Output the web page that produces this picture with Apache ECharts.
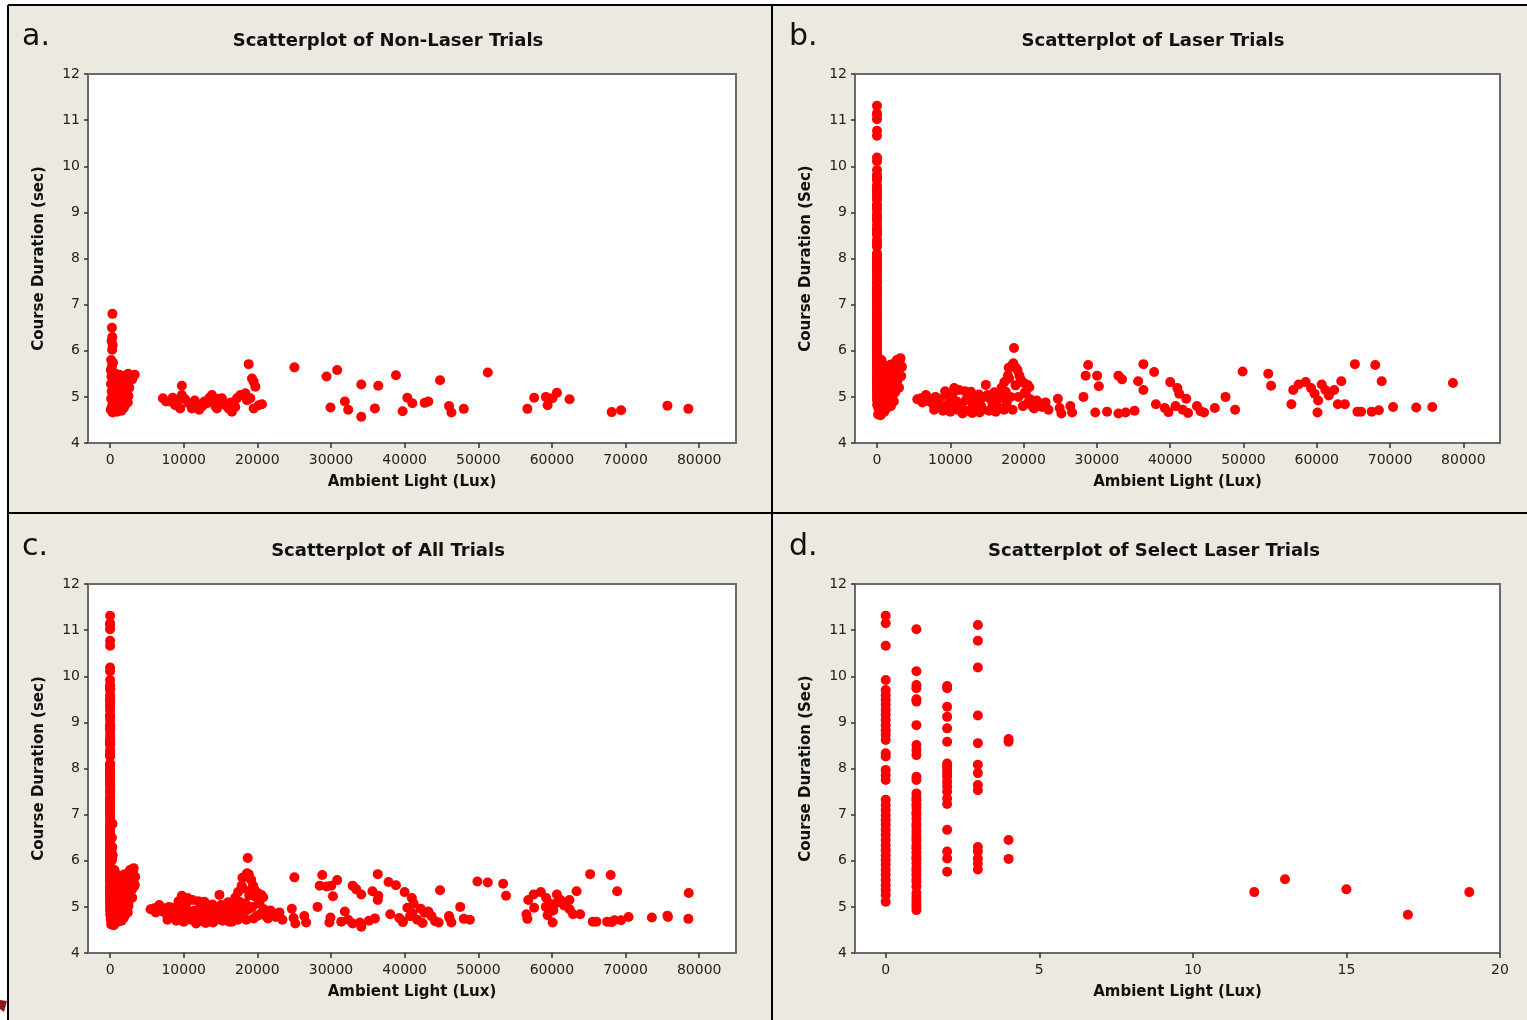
<!DOCTYPE html>
<html>
<head>
<meta charset="utf-8">
<title>Course duration vs ambient light</title>
<script src="https://cdn.jsdelivr.net/npm/echarts@6.0.0/dist/echarts.min.js"></script>
<style>
  html, body { margin: 0; padding: 0; background: #fff; }
  #sheet { position: absolute; left: 8px; top: 5px; right: 0; bottom: 0; background: #ece9e0; }
  #chart { position: absolute; left: 0; top: 0; width: 1527px; height: 1020px; }
</style>
</head>
<body>
<div id="sheet"></div>
<div id="chart"></div>
<script>
// [ambient light (lux), course duration (sec)]
const nonLaserTrials = [
  [320, 6.80], [250, 6.50], [300, 6.30], [200, 6.21], [350, 6.12], [280, 6.02], [150, 5.80], [400, 5.74], [250, 5.66],
  [100, 5.58], [450, 5.52], [180, 5.44], [380, 5.36], [120, 5.28], [420, 5.20], [220, 5.12], [360, 5.04], [140, 4.96],
  [460, 4.88], [260, 4.80], [90, 4.72], [340, 4.66],
  [700, 5.50], [950, 5.42], [1250, 5.48], [1500, 5.38], [1800, 5.45], [2100, 5.40], [2450, 5.50], [2750, 5.46], [3350, 5.48], [3000, 5.38],
  [650, 5.30], [900, 5.22], [1150, 5.32], [1400, 5.18], [1700, 5.26], [2000, 5.15], [2300, 5.28], [2600, 5.20],
  [700, 5.08], [1000, 5.02], [1300, 5.10], [1600, 4.98], [1900, 5.06], [2200, 4.96], [2500, 5.02],
  [600, 4.90], [850, 4.84], [1150, 4.92], [1450, 4.80], [1750, 4.88], [2050, 4.82], [2400, 4.88],
  [650, 4.72], [950, 4.68], [1250, 4.74], [1550, 4.70], [1850, 4.76],
  [7170, 4.97], [7600, 4.90], [8160, 4.90], [8500, 4.98], [8840, 4.82], [9200, 4.92], [9520, 4.75], [9750, 5.04], [9750, 5.24],
  [10200, 4.95], [10650, 4.86], [11110, 4.75], [11500, 4.92], [11790, 4.82], [12100, 4.72], [12470, 4.79], [12800, 4.90],
  [13150, 4.86], [13500, 4.98], [13830, 5.04], [14060, 4.93], [14300, 4.80], [14510, 4.75], [14800, 4.96], [15190, 4.97],
  [15400, 4.86], [15650, 4.82], [16100, 4.75], [16400, 4.88], [16550, 4.68], [16780, 4.86], [17000, 4.78], [17230, 4.97],
  [17690, 5.04], [18370, 5.08], [18590, 4.93], [18820, 5.71], [19050, 4.97], [19270, 5.40], [19500, 5.33], [19730, 5.22],
  [19500, 4.75], [20180, 4.82], [20630, 4.84],
  [25030, 5.64], [29390, 5.44], [30840, 5.58], [34110, 5.27], [36420, 5.24], [38820, 5.47], [44810, 5.36], [51290, 5.53],
  [29930, 4.77], [31880, 4.90], [32340, 4.72], [34110, 4.57], [35960, 4.75], [39730, 4.69], [40370, 4.98], [41050, 4.86],
  [42720, 4.87], [43220, 4.90], [46030, 4.80], [46350, 4.66], [48030, 4.74],
  [56670, 4.74], [57590, 4.98], [59180, 5.00], [59410, 4.82], [60090, 4.97], [60680, 5.09], [62400, 4.95],
  [68120, 4.67], [69390, 4.71], [75690, 4.81], [78530, 4.74]
];

// laser trials with ambient light below 20 lux (panel d)
const laserSelectTrials = [
  [0, 11.31], [0, 11.15], [0, 10.66], [0, 9.92], [0, 9.70], [0, 9.59], [0, 9.49], [0, 9.38], [0, 9.27], [0, 9.16],
  [0, 9.05], [0, 8.94], [0, 8.83], [0, 8.73], [0, 8.62], [0, 8.33], [0, 8.26], [0, 7.97], [0, 7.86], [0, 7.75],
  [0, 7.32], [0, 7.21], [0, 7.10], [0, 6.99], [0, 6.88], [0, 6.78], [0, 6.67], [0, 6.56], [0, 6.45], [0, 6.34],
  [0, 6.23], [0, 6.12], [0, 6.02], [0, 5.91], [0, 5.80], [0, 5.69], [0, 5.58], [0, 5.47], [0, 5.37], [0, 5.26], [0, 5.11],
  [1, 11.02], [1, 10.11], [1, 9.81], [1, 9.74], [1, 9.50], [1, 9.45], [1, 8.94], [1, 8.51], [1, 8.40], [1, 8.29],
  [1, 7.82], [1, 7.75], [1, 7.46], [1, 7.37], [1, 7.31], [1, 7.22], [1, 7.15], [1, 7.05], [1, 6.99], [1, 6.91],
  [1, 6.80], [1, 6.74], [1, 6.65], [1, 6.57], [1, 6.49], [1, 6.43], [1, 6.33], [1, 6.27], [1, 6.18], [1, 6.09],
  [1, 6.03], [1, 5.94], [1, 5.85], [1, 5.79], [1, 5.70], [1, 5.61], [1, 5.55], [1, 5.44], [1, 5.30], [1, 5.22],
  [1, 5.15], [1, 5.07], [1, 5.00], [1, 4.93],
  [2, 9.79], [2, 9.74], [2, 9.34], [2, 9.12], [2, 8.87], [2, 8.58], [2, 8.11], [2, 8.04], [2, 7.97], [2, 7.90],
  [2, 7.82], [2, 7.71], [2, 7.61], [2, 7.50], [2, 7.35], [2, 7.23], [2, 6.67], [2, 6.20], [2, 6.05], [2, 5.76],
  [3, 11.11], [3, 10.77], [3, 10.19], [3, 9.15], [3, 8.55], [3, 8.08], [3, 7.90], [3, 7.64], [3, 7.53],
  [3, 6.30], [3, 6.20], [3, 6.05], [3, 5.94], [3, 5.81],
  [4, 8.64], [4, 8.58], [4, 6.45], [4, 6.04],
  [12, 5.32], [13, 5.60], [15, 5.38], [17, 4.83], [19, 5.32]
];

// remaining laser trials (20 lux and above)
const laserOtherTrials = [
  [150, 4.62], [300, 4.70], [250, 4.80], [400, 4.66], [200, 4.75], [350, 4.85], [500, 4.60], [600, 4.72],
  [700, 4.65], [800, 4.78], [900, 4.90], [1000, 4.68], [1100, 4.82], [1200, 5.00], [1300, 4.75], [1400, 4.95],
  [1500, 5.10], [1600, 4.85], [1700, 5.05], [1800, 5.20], [1900, 4.80], [2000, 5.30], [2100, 5.00], [2200, 5.15],
  [2300, 4.90], [2400, 5.40], [2500, 5.10], [600, 5.00], [800, 5.20], [1000, 5.40], [1200, 5.60], [700, 5.55],
  [900, 5.70], [1100, 5.25], [1300, 5.45], [1500, 5.65], [1700, 5.50], [1900, 5.70], [2100, 5.60], [2300, 5.72],
  [500, 5.30], [400, 5.50], [2600, 5.55], [2800, 5.35], [3000, 5.20], [3200, 5.84], [3400, 5.65], [3300, 5.45],
  [3100, 5.75], [2700, 5.80], [1400, 5.35], [1600, 5.30], [1800, 5.45], [2000, 5.55], [600, 5.80], [300, 5.15], [350, 5.40],
  [5990, 4.97], [6680, 5.04], [7130, 4.90], [8270, 4.93], [8720, 4.79], [9400, 5.04], [10080, 4.93], [10530, 5.19],
  [10760, 4.75], [11680, 4.64], [12130, 4.93], [12810, 5.11], [13040, 4.79], [13720, 4.93], [14400, 4.72], [14850, 5.26],
  [15080, 5.04], [15760, 4.82], [16440, 4.93], [17350, 4.72], [17570, 5.11], [18030, 5.40], [18480, 5.69], [18690, 6.06],
  [19170, 5.58], [19620, 5.37], [20530, 5.26], [20530, 4.86], [21430, 4.75], [22110, 4.86],
  [5500, 4.95], [6200, 4.88], [6900, 4.98], [7600, 4.85], [8000, 5.00], [8500, 4.95], [9000, 4.70], [9700, 4.85],
  [10300, 5.05], [10900, 4.90], [11200, 5.15], [11500, 4.80], [12400, 4.70], [12600, 5.00], [13300, 4.85], [13900, 5.05],
  [14200, 4.80], [14600, 5.00], [15300, 4.70], [15500, 4.95], [16000, 5.10], [16700, 4.75], [16900, 5.00], [17700, 4.88],
  [18200, 5.00], [18900, 5.25], [19300, 5.00], [19900, 4.80], [20200, 5.10], [20900, 4.95], [21200, 4.80], [21800, 4.92],
  [22500, 4.78], [23000, 4.88], [23400, 4.72], [7800, 4.72], [10000, 4.68], [11000, 4.72], [13000, 4.65], [14000, 4.66],
  [16200, 4.68], [18500, 4.72], [9300, 5.12], [12000, 5.12], [17000, 5.20],
  [18600, 5.73], [18940, 5.63], [17970, 5.63], [17860, 5.46], [17380, 5.32], [19430, 5.46], [20050, 5.30], [20790, 5.21],
  [20300, 5.07], [24680, 4.96], [24920, 4.76], [25160, 4.64], [26380, 4.80], [26620, 4.66],
  [28810, 5.69], [28470, 5.46], [30030, 5.46], [30270, 5.23], [28170, 5.00], [29780, 4.66], [31390, 4.68],
  [32940, 5.46], [33430, 5.38], [32940, 4.64], [33920, 4.66], [35140, 4.70], [35630, 5.34], [36350, 5.15],
  [36350, 5.71], [37810, 5.54], [38050, 4.84], [39270, 4.76], [39760, 4.67], [40740, 4.80], [41710, 4.72], [42190, 4.96],
  [42440, 4.65], [43650, 4.80], [44140, 4.69], [44630, 4.66], [46090, 4.76], [40000, 5.32], [40980, 5.19], [41230, 5.07],
  [47550, 5.00], [48860, 4.72], [49880, 5.55], [53380, 5.50], [53770, 5.24],
  [56540, 4.84], [56790, 5.15], [57520, 5.27], [58490, 5.32], [59220, 5.19], [59710, 5.07], [60190, 4.92], [60680, 5.27],
  [61170, 5.15], [61650, 5.03], [62380, 5.15], [60100, 4.66], [62870, 4.84], [63840, 4.84], [63350, 5.34],
  [65200, 5.71], [67980, 5.69], [68860, 5.34], [65550, 4.68], [66040, 4.68], [67490, 4.68], [68470, 4.71],
  [70410, 4.78], [73570, 4.77], [75760, 4.78], [78580, 5.30]
];

const luxTicks = [0, 10000, 20000, 30000, 40000, 50000, 60000, 70000, 80000];
const selectLuxTicks = [0, 5, 10, 15, 20];

const allTrials = nonLaserTrials.concat(laserSelectTrials, laserOtherTrials);
const laserTrials = laserSelectTrials.concat(laserOtherTrials);

const panels = [
  { letter: 'a.', title: 'Scatterplot of Non-Laser Trials', yName: 'Course Duration (sec)', data: nonLaserTrials,
    left: 88, top: 74, width: 648, cx: 388, xMin: -3000, xMax: 85000, ticks: luxTicks },
  { letter: 'b.', title: 'Scatterplot of Laser Trials', yName: 'Course Duration (Sec)', data: laserTrials,
    left: 855, top: 74, width: 645, cx: 1153, xMin: -3000, xMax: 85000, ticks: luxTicks },
  { letter: 'c.', title: 'Scatterplot of All Trials', yName: 'Course Duration (sec)', data: allTrials,
    left: 88, top: 584, width: 648, cx: 388, xMin: -3000, xMax: 85000, ticks: luxTicks },
  { letter: 'd.', title: 'Scatterplot of Select Laser Trials', yName: 'Course Duration (Sec)', data: laserSelectTrials,
    left: 855, top: 584, width: 645, cx: 1154, xMin: -1, xMax: 20, ticks: selectLuxTicks }
];

const font = '"DejaVu Sans", Verdana, sans-serif';
const frameColor = '#6a6a6a';

const chart = echarts.init(document.getElementById('chart'));

const graphics = [
  { type: 'line', shape: { x1: 8, y1: 5, x2: 1527, y2: 5 }, style: { stroke: '#000', lineWidth: 2 } },
  { type: 'line', shape: { x1: 8, y1: 5, x2: 8, y2: 1020 }, style: { stroke: '#000', lineWidth: 2 } },
  { type: 'line', shape: { x1: 772, y1: 5, x2: 772, y2: 1020 }, style: { stroke: '#000', lineWidth: 2 } },
  { type: 'line', shape: { x1: 8, y1: 513, x2: 1527, y2: 513 }, style: { stroke: '#000', lineWidth: 2 } },
  { type: 'polygon', shape: { points: [[0, 1000], [7, 1001], [4, 1012], [0, 1009]] }, style: { fill: '#8b1a1a' } }
];
panels.forEach(p => {
  graphics.push({
    type: 'text',
    style: { text: p.letter, x: p.left - 66, y: p.top - 37, textAlign: 'left', textVerticalAlign: 'middle',
      font: '30px ' + font, fill: '#111' }
  });
  graphics.push({
    type: 'text',
    style: { text: p.title, x: p.cx, y: p.top - 33, textAlign: 'center', textVerticalAlign: 'middle',
      font: 'bold 18px ' + font, fill: '#111' }
  });
});

chart.setOption({
  animation: false,
  backgroundColor: 'transparent',
  graphic: graphics,
  grid: panels.map(p => ({
    left: p.left, top: p.top, width: p.width, height: 369,
    show: true, backgroundColor: '#fff', borderColor: frameColor, borderWidth: 2
  })),
  xAxis: panels.map((p, i) => ({
    gridIndex: i,
    type: 'value',
    min: p.xMin,
    max: p.xMax,
    splitLine: { show: false },
    axisLine: { onZero: false, lineStyle: { color: frameColor, width: 2 } },
    axisTick: { customValues: p.ticks, length: 5, lineStyle: { color: '#333', width: 1.5 } },
    axisLabel: { customValues: p.ticks, formatter: v => String(v), margin: 10, color: '#222', fontSize: 14, fontFamily: font },
    name: 'Ambient Light (Lux)',
    nameLocation: 'middle',
    nameGap: 32,
    nameTextStyle: { color: '#111', fontSize: 15, fontWeight: 'bold', fontFamily: font }
  })),
  yAxis: panels.map((p, i) => ({
    gridIndex: i,
    type: 'value',
    min: 4,
    max: 12,
    interval: 1,
    splitLine: { show: false },
    axisLine: { onZero: false, lineStyle: { color: frameColor, width: 2 } },
    axisTick: { length: 4, lineStyle: { color: '#333', width: 1.5 } },
    axisLabel: { margin: 8, color: '#222', fontSize: 14, fontFamily: font },
    name: p.yName,
    nameLocation: 'middle',
    nameRotate: 90,
    nameGap: 41,
    nameTextStyle: { color: '#111', fontSize: 15, fontWeight: 'bold', fontFamily: font }
  })),
  series: panels.map((p, i) => ({
    type: 'scatter',
    xAxisIndex: i,
    yAxisIndex: i,
    symbol: 'circle',
    symbolSize: 10,
    itemStyle: { color: '#ff0000', opacity: 1 },
    data: p.data
  }))
});
</script>
</body>
</html>
